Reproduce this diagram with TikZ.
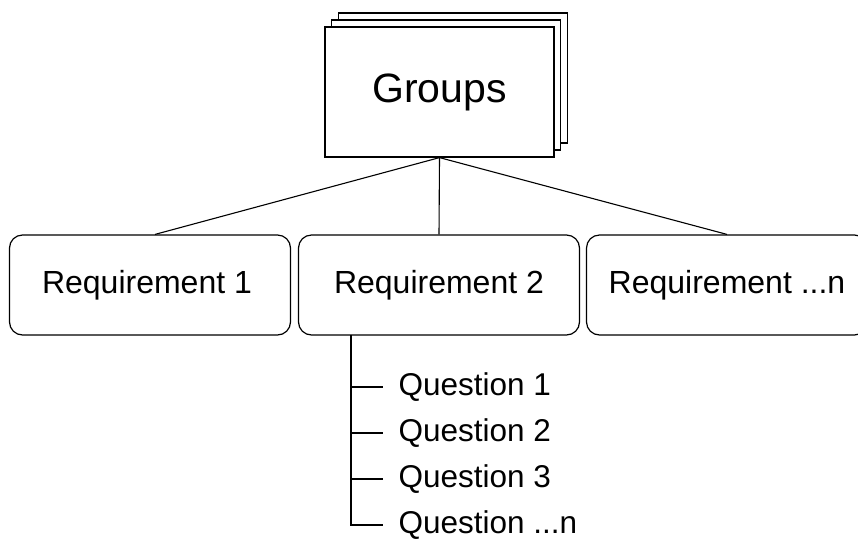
\documentclass[tikz,border=0pt]{standalone}
\usepackage{fontspec}
\setmainfont{Liberation Sans}
\begin{document}
\begin{tikzpicture}[x=1pt,y=-1pt,
  line width=1.2pt,
  sheet/.style={draw=black, fill=white, minimum width=229pt, minimum height=130pt, inner sep=0pt},
  reqbox/.style={draw=black, fill=white, rounded corners=13pt, minimum width=281pt, minimum height=100pt, inner sep=0pt, font=\fontsize{32}{38}\selectfont},
  qlabel/.style={anchor=west, inner sep=0pt, font=\fontsize{31.5}{38}\selectfont},
  link/.style={draw=black, line width=1.1pt}]
\useasboundingbox (0,0) rectangle (858,539);
\clip (0,0) rectangle (858,539);
% stacked sheets for the group
\node[sheet] (g3) at (453,78) {};
\node[sheet] (g2) at (446,85) {};
\node[sheet, font=\fontsize{41}{48}\selectfont] (g) at (439.5,92) {Groups};
% requirement boxes
\node[reqbox] (r1) at (150,285) {\hspace*{-6pt}Requirement 1};
\node[reqbox] (r2) at (439,285) {Requirement 2};
\node[reqbox] (rn) at (727,285) {Requirement ...n};
% tree links from the group
\draw[link] (g.south) -- ([xshift=5pt]r1.north);
\draw[link] (g.south) -- (r2.north);
\draw[link] (g.south) -- (rn.north);
% questions under requirement 2
\coordinate (qtop) at (351,335);
\node[qlabel] (q1) at (398,387) {Question 1};
\node[qlabel] (q2) at (398,433) {Question 2};
\node[qlabel] (q3) at (398,479) {Question 3};
\node[qlabel] (qn) at (398,525) {Question ...n};
\draw[link] (qtop) |- ([xshift=-15pt]qn.west);
\draw[link] (qtop |- q1.west) -- ([xshift=-15pt]q1.west);
\draw[link] (qtop |- q2.west) -- ([xshift=-15pt]q2.west);
\draw[link] (qtop |- q3.west) -- ([xshift=-15pt]q3.west);
\end{tikzpicture}
\end{document}
